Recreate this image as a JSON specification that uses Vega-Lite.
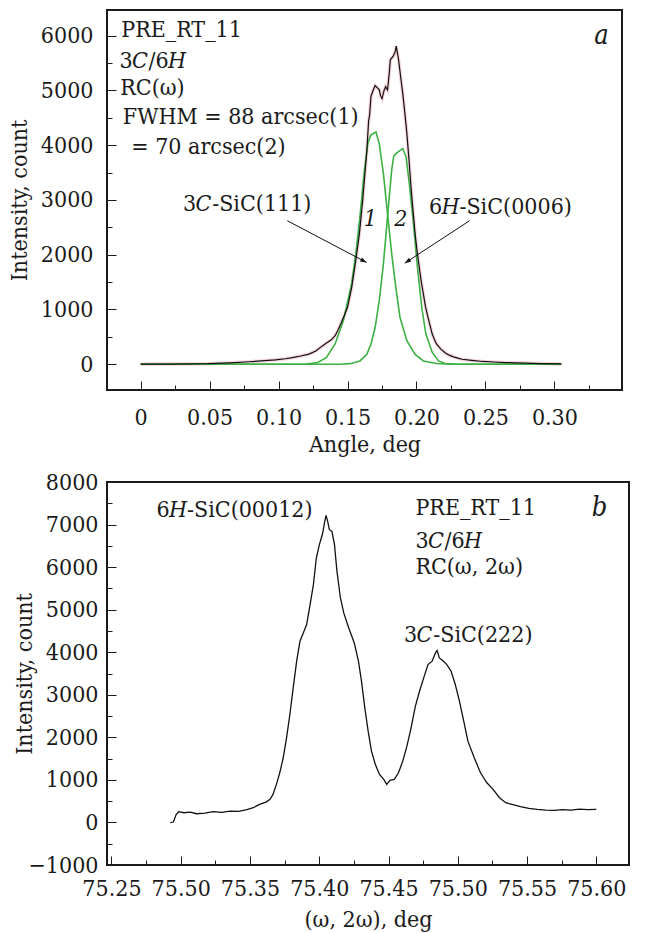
{
  "$schema": "https://vega.github.io/schema/vega-lite/v6.json",
  "background": "white",
  "padding": {"left": 7, "top": 9, "right": 10, "bottom": 0},
  "spacing": 12,
  "config": {
    "view": {"stroke": "#1a1a1a", "strokeWidth": 2},
    "axis": {"domain": false, "grid": false, "ticks": true, "tickColor": "#1a1a1a", "tickWidth": 1, "labelFont": "DejaVu Serif Condensed", "titleFont": "DejaVu Serif Condensed", "labelFontSize": 23, "labelColor": "#1a1a1a", "titleFontSize": 23, "titleFontWeight": "normal", "titleColor": "#1a1a1a", "labelOverlap": false, "labelFlush": false, "labelBound": false},
    "text": {"font": "DejaVu Serif Condensed", "fontSize": 23, "color": "#1a1a1a"}
  },
  "datasets": {
    "aCurves": [
      {"s":"m","x":0,"y":0},{"s":"m","x":0.02,"y":3},{"s":"m","x":0.035,"y":6},{"s":"m","x":0.0486,"y":10},{"s":"m","x":0.065,"y":25},{"s":"m","x":0.079,"y":45},{"s":"m","x":0.09,"y":65},{"s":"m","x":0.0977,"y":80},{"s":"m","x":0.105,"y":100},{"s":"m","x":0.11,"y":120},{"s":"m","x":0.116,"y":150},{"s":"m","x":0.122,"y":185},{"s":"m","x":0.127,"y":240},{"s":"m","x":0.1315,"y":330},{"s":"m","x":0.135,"y":390},{"s":"m","x":0.138,"y":440},{"s":"m","x":0.141,"y":520},{"s":"m","x":0.143,"y":620},{"s":"m","x":0.145,"y":730},{"s":"m","x":0.1475,"y":880},{"s":"m","x":0.15,"y":1040},{"s":"m","x":0.153,"y":1400},{"s":"m","x":0.156,"y":1900},{"s":"m","x":0.1586,"y":2380},{"s":"m","x":0.161,"y":3000},{"s":"m","x":0.1625,"y":3450},{"s":"m","x":0.164,"y":3900},{"s":"m","x":0.1653,"y":4450},{"s":"m","x":0.166,"y":4550},{"s":"m","x":0.167,"y":4890},{"s":"m","x":0.1685,"y":5000},{"s":"m","x":0.17,"y":5090},{"s":"m","x":0.1715,"y":5050},{"s":"m","x":0.173,"y":5010},{"s":"m","x":0.174,"y":4900},{"s":"m","x":0.175,"y":4850},{"s":"m","x":0.1765,"y":5000},{"s":"m","x":0.1776,"y":5070},{"s":"m","x":0.179,"y":5010},{"s":"m","x":0.1802,"y":5300},{"s":"m","x":0.181,"y":5560},{"s":"m","x":0.183,"y":5620},{"s":"m","x":0.1845,"y":5700},{"s":"m","x":0.1853,"y":5810},{"s":"m","x":0.187,"y":5560},{"s":"m","x":0.1885,"y":5250},{"s":"m","x":0.19,"y":4950},{"s":"m","x":0.1915,"y":4600},{"s":"m","x":0.193,"y":4220},{"s":"m","x":0.1945,"y":3750},{"s":"m","x":0.196,"y":3240},{"s":"m","x":0.1975,"y":2800},{"s":"m","x":0.199,"y":2380},{"s":"m","x":0.2005,"y":2050},{"s":"m","x":0.202,"y":1770},{"s":"m","x":0.2035,"y":1500},{"s":"m","x":0.205,"y":1280},{"s":"m","x":0.2065,"y":1050},{"s":"m","x":0.2083,"y":860},{"s":"m","x":0.21,"y":690},{"s":"m","x":0.2114,"y":550},{"s":"m","x":0.213,"y":450},{"s":"m","x":0.2145,"y":370},{"s":"m","x":0.2175,"y":280},{"s":"m","x":0.2207,"y":210},{"s":"m","x":0.2237,"y":165},{"s":"m","x":0.2268,"y":135},{"s":"m","x":0.23,"y":110},{"s":"m","x":0.233,"y":90},{"s":"m","x":0.24,"y":70},{"s":"m","x":0.248,"y":50},{"s":"m","x":0.256,"y":40},{"s":"m","x":0.264,"y":30},{"s":"m","x":0.272,"y":25},{"s":"m","x":0.279,"y":20},{"s":"m","x":0.29,"y":12},{"s":"m","x":0.305,"y":5},
      {"s":"g1","x":0,"y":0},{"s":"g1","x":0.1,"y":0},{"s":"g1","x":0.12,"y":5},{"s":"g1","x":0.1284,"y":30},{"s":"g1","x":0.1346,"y":120},{"s":"g1","x":0.141,"y":370},{"s":"g1","x":0.147,"y":800},{"s":"g1","x":0.153,"y":1470},{"s":"g1","x":0.156,"y":2020},{"s":"g1","x":0.159,"y":2690},{"s":"g1","x":0.162,"y":3480},{"s":"g1","x":0.1647,"y":4030},{"s":"g1","x":0.167,"y":4190},{"s":"g1","x":0.1706,"y":4240},{"s":"g1","x":0.173,"y":4030},{"s":"g1","x":0.176,"y":3480},{"s":"g1","x":0.179,"y":2750},{"s":"g1","x":0.182,"y":2020},{"s":"g1","x":0.1853,"y":1345},{"s":"g1","x":0.188,"y":860},{"s":"g1","x":0.193,"y":430},{"s":"g1","x":0.199,"y":180},{"s":"g1","x":0.205,"y":60},{"s":"g1","x":0.2145,"y":12},{"s":"g1","x":0.225,"y":0},{"s":"g1","x":0.305,"y":0},
      {"s":"g2","x":0,"y":0},{"s":"g2","x":0.145,"y":0},{"s":"g2","x":0.152,"y":10},{"s":"g2","x":0.159,"y":60},{"s":"g2","x":0.164,"y":180},{"s":"g2","x":0.167,"y":370},{"s":"g2","x":0.17,"y":670},{"s":"g2","x":0.173,"y":1160},{"s":"g2","x":0.176,"y":1830},{"s":"g2","x":0.179,"y":2690},{"s":"g2","x":0.182,"y":3545},{"s":"g2","x":0.1835,"y":3800},{"s":"g2","x":0.1853,"y":3850},{"s":"g2","x":0.19,"y":3940},{"s":"g2","x":0.1924,"y":3790},{"s":"g2","x":0.1945,"y":3360},{"s":"g2","x":0.1976,"y":2630},{"s":"g2","x":0.2007,"y":1770},{"s":"g2","x":0.2038,"y":1040},{"s":"g2","x":0.2068,"y":550},{"s":"g2","x":0.2114,"y":215},{"s":"g2","x":0.216,"y":60},{"s":"g2","x":0.2207,"y":12},{"s":"g2","x":0.23,"y":0},{"s":"g2","x":0.305,"y":0}
    ],
    "aText": [
      {"x":-0.0141,"y":6110,"t":"PRE_RT_11","i":0},
      {"x":-0.0154,"y":5545,"t":"3","i":0},
      {"x":-0.00634,"y":5545,"t":"C","i":1},
      {"x":0.00577,"y":5545,"t":"/6","i":0},
      {"x":0.01988,"y":5545,"t":"H","i":1},
      {"x":-0.0148,"y":5045,"t":"RC(ω)","i":0},
      {"x":-0.0129,"y":4508,"t":"FWHM = 88 arcsec(1)","i":0},
      {"x":-0.0068,"y":3960,"t":"= 70 arcsec(2)","i":0},
      {"x":0.0307,"y":2926,"t":"3","i":0},
      {"x":0.03976,"y":2926,"t":"C","i":1},
      {"x":0.05187,"y":2926,"t":"-SiC(111)","i":0},
      {"x":0.209,"y":2864,"t":"6","i":0},
      {"x":0.21806,"y":2864,"t":"H","i":1},
      {"x":0.23115,"y":2864,"t":"-SiC(0006)","i":0},
      {"x":0.1618,"y":2652,"t":"1","i":1},
      {"x":0.1839,"y":2652,"t":"2","i":1},
      {"x":0.3393,"y":6000,"t":"a","i":2}
    ],
    "aArrows": [
      {"k":1,"x":0.1063,"y":2621,"x2":0.1638,"y2":1859},
      {"k":2,"x":0.2385,"y":2621,"x2":0.1915,"y2":1846}
    ],
    "aHeads": [
      {"k":1,"x":0.1638,"y":1859},
      {"k":2,"x":0.1915,"y":1846}
    ],
    "bCurve": [
      {"x":75.2925,"y":-6},{"x":75.2947,"y":9},{"x":75.2968,"y":190},{"x":75.2986,"y":252},{"x":75.3023,"y":228},{"x":75.3068,"y":244},{"x":75.3114,"y":205},{"x":75.3174,"y":221},{"x":75.3235,"y":252},{"x":75.3296,"y":236},{"x":75.3357,"y":268},{"x":75.3418,"y":260},{"x":75.3478,"y":299},{"x":75.3524,"y":346},{"x":75.3569,"y":424},{"x":75.3615,"y":479},{"x":75.3645,"y":542},{"x":75.3666,"y":659},{"x":75.3691,"y":894},{"x":75.3715,"y":1167},{"x":75.374,"y":1520},{"x":75.3764,"y":1989},{"x":75.3788,"y":2537},{"x":75.3812,"y":3163},{"x":75.3837,"y":3789},{"x":75.3861,"y":4258},{"x":75.3885,"y":4454},{"x":75.3909,"y":4649},{"x":75.3934,"y":5119},{"x":75.3958,"y":5588},{"x":75.3979,"y":6214},{"x":75.4001,"y":6527},{"x":75.4025,"y":6801},{"x":75.404,"y":7075},{"x":75.4049,"y":7216},{"x":75.4061,"y":7075},{"x":75.4073,"y":6879},{"x":75.4092,"y":6840},{"x":75.411,"y":6527},{"x":75.4128,"y":5901},{"x":75.4153,"y":5275},{"x":75.4177,"y":4923},{"x":75.4213,"y":4571},{"x":75.4253,"y":4219},{"x":75.4283,"y":3789},{"x":75.4305,"y":3319},{"x":75.4329,"y":2693},{"x":75.4353,"y":2145},{"x":75.4377,"y":1676},{"x":75.4405,"y":1363},{"x":75.4435,"y":1128},{"x":75.4466,"y":1011},{"x":75.4487,"y":894},{"x":75.4511,"y":987},{"x":75.4542,"y":1011},{"x":75.4572,"y":1167},{"x":75.4603,"y":1441},{"x":75.4633,"y":1793},{"x":75.4663,"y":2224},{"x":75.4694,"y":2732},{"x":75.4724,"y":3084},{"x":75.4754,"y":3397},{"x":75.4785,"y":3710},{"x":75.4815,"y":3789},{"x":75.4839,"y":3984},{"x":75.4851,"y":4039},{"x":75.4867,"y":3867},{"x":75.4891,"y":3804},{"x":75.4921,"y":3710},{"x":75.4952,"y":3554},{"x":75.4982,"y":3241},{"x":75.5012,"y":2850},{"x":75.5043,"y":2380},{"x":75.5073,"y":1911},{"x":75.5119,"y":1520},{"x":75.5164,"y":1167},{"x":75.521,"y":933},{"x":75.5255,"y":777},{"x":75.5301,"y":581},{"x":75.5346,"y":463},{"x":75.5392,"y":424},{"x":75.5452,"y":369},{"x":75.5513,"y":330},{"x":75.5574,"y":307},{"x":75.5635,"y":291},{"x":75.5696,"y":283},{"x":75.5756,"y":299},{"x":75.5817,"y":291},{"x":75.5878,"y":315},{"x":75.5939,"y":299},{"x":75.6,"y":307}
    ],
    "bText": [
      {"x":75.2825,"y":7350,"t":"6","i":0},
      {"x":75.29153,"y":7350,"t":"H","i":1},
      {"x":75.30456,"y":7350,"t":"-SiC(00012)","i":0},
      {"x":75.4694,"y":7390,"t":"PRE_RT_11","i":0},
      {"x":75.4694,"y":6622,"t":"3","i":0},
      {"x":75.47843,"y":6622,"t":"C","i":1},
      {"x":75.49048,"y":6622,"t":"/6","i":0},
      {"x":75.50453,"y":6622,"t":"H","i":1},
      {"x":75.4694,"y":5995,"t":"RC(ω, 2ω)","i":0},
      {"x":75.4612,"y":4415,"t":"3","i":0},
      {"x":75.47023,"y":4415,"t":"C","i":1},
      {"x":75.48228,"y":4415,"t":"-SiC(222)","i":0},
      {"x":75.608,"y":7390,"t":"b","i":2}
    ]
  },
  "vconcat": [
    {
      "width": 515,
      "height": 380,
      "encoding": {
        "x": {"field": "x", "type": "quantitative", "title": "Angle, deg",
          "scale": {"domain": [-0.0244, 0.349], "nice": false, "zero": false},
          "axis": {
            "values": [0,0.025,0.05,0.075,0.1,0.125,0.15,0.175,0.2,0.225,0.25,0.275,0.3,0.325,0.35],
            "labelExpr": "abs(datum.value*20-round(datum.value*20))<0.001 ? (datum.value==0 ? '0' : format(datum.value,'.2f')) : ''",
            "tickSize": {"condition": {"test": "abs(datum.value*20-round(datum.value*20))<0.001", "value": -9}, "value": -5},
            "labelPadding": 25.7, "titlePadding": 0
          }},
        "y": {"field": "y", "type": "quantitative", "title": "Intensity, count",
          "scale": {"domain": [-471, 6469], "nice": false, "zero": false},
          "axis": {
            "values": [0,500,1000,1500,2000,2500,3000,3500,4000,4500,5000,5500,6000],
            "labelExpr": "datum.value % 1000 == 0 ? format(datum.value,'d') : ''",
            "tickSize": {"condition": {"test": "datum.value % 1000 == 0", "value": -9}, "value": -5},
            "labelPadding": 23, "titlePadding": 9
          }}
      },
      "layer": [
        {"data": {"name": "aCurves"}, "transform": [{"filter": "datum.s == 'm'"}], "mark": {"type": "line", "color": "#f2b9c3", "strokeWidth": 3.5, "opacity": 0.6}},
        {"data": {"name": "aCurves"}, "transform": [{"filter": "datum.s == 'g1'"}], "mark": {"type": "line", "color": "#3cb043", "strokeWidth": 1.6}},
        {"data": {"name": "aCurves"}, "transform": [{"filter": "datum.s == 'g2'"}], "mark": {"type": "line", "color": "#3cb043", "strokeWidth": 1.6}},
        {"data": {"name": "aCurves"}, "transform": [{"filter": "datum.s == 'm'"}], "mark": {"type": "line", "color": "#111111", "strokeWidth": 1.2}},
        {"data": {"name": "aArrows"}, "mark": {"type": "rule", "color": "#111111", "strokeWidth": 1},
          "encoding": {"x2": {"field": "x2"}, "y2": {"field": "y2"}}},
        {"data": {"name": "aHeads"}, "transform": [{"filter": "datum.k == 1"}],
          "mark": {"type": "point", "shape": "M0,0 L-2,-0.7 L-2,0.7 Z", "filled": true, "color": "#111111", "size": 40, "angle": 27.7, "opacity": 1}},
        {"data": {"name": "aHeads"}, "transform": [{"filter": "datum.k == 2"}],
          "mark": {"type": "point", "shape": "M0,0 L-2,-0.7 L-2,0.7 Z", "filled": true, "color": "#111111", "size": 40, "angle": 146.8, "opacity": 1}},
        {"data": {"name": "aText"}, "transform": [{"filter": "datum.i == 0"}],
          "mark": {"type": "text", "align": "left", "baseline": "middle", "fontSize": 23},
          "encoding": {"text": {"field": "t"}}},
        {"data": {"name": "aText"}, "transform": [{"filter": "datum.i == 1"}],
          "mark": {"type": "text", "align": "left", "baseline": "middle", "fontSize": 23, "fontStyle": "italic"},
          "encoding": {"text": {"field": "t"}}},
        {"data": {"name": "aText"}, "transform": [{"filter": "datum.i == 2"}],
          "mark": {"type": "text", "align": "right", "baseline": "middle", "fontSize": 27, "fontStyle": "italic"},
          "encoding": {"text": {"field": "t"}}}
      ]
    },
    {
      "width": 522,
      "height": 383,
      "encoding": {
        "x": {"field": "x", "type": "quantitative", "title": "(ω, 2ω), deg",
          "scale": {"domain": [75.2468, 75.6236], "nice": false, "zero": false},
          "axis": {
            "values": [75.25,75.275,75.3,75.325,75.35,75.375,75.4,75.425,75.45,75.475,75.5,75.525,75.55,75.575,75.6],
            "labelExpr": "abs(datum.value*20-round(datum.value*20))<0.001 ? (abs(datum.value-75.3)<0.001 ? '75.50' : format(datum.value,'.2f')) : ''",
            "tickSize": {"condition": {"test": "abs(datum.value*20-round(datum.value*20))<0.001", "value": -9}, "value": -5},
            "labelPadding": 21.7, "titlePadding": 3.3
          }},
        "y": {"field": "y", "type": "quantitative", "title": "Intensity, count",
          "scale": {"domain": [-1000, 8000], "nice": false, "zero": false},
          "axis": {
            "values": [-1000,-500,0,500,1000,1500,2000,2500,3000,3500,4000,4500,5000,5500,6000,6500,7000,7500,8000],
            "labelExpr": "datum.value % 1000 == 0 ? format(datum.value,'d') : ''",
            "tickSize": {"condition": {"test": "datum.value % 1000 == 0", "value": -9}, "value": -5},
            "labelPadding": 18, "titlePadding": -8
          }}
      },
      "layer": [
        {"data": {"name": "bCurve"}, "mark": {"type": "line", "color": "#111111", "strokeWidth": 1.3}},
        {"data": {"name": "bText"}, "transform": [{"filter": "datum.i == 0"}],
          "mark": {"type": "text", "align": "left", "baseline": "middle", "fontSize": 23},
          "encoding": {"text": {"field": "t"}}},
        {"data": {"name": "bText"}, "transform": [{"filter": "datum.i == 1"}],
          "mark": {"type": "text", "align": "left", "baseline": "middle", "fontSize": 23, "fontStyle": "italic"},
          "encoding": {"text": {"field": "t"}}},
        {"data": {"name": "bText"}, "transform": [{"filter": "datum.i == 2"}],
          "mark": {"type": "text", "align": "right", "baseline": "middle", "fontSize": 27, "fontStyle": "italic"},
          "encoding": {"text": {"field": "t"}}}
      ]
    }
  ]
}
